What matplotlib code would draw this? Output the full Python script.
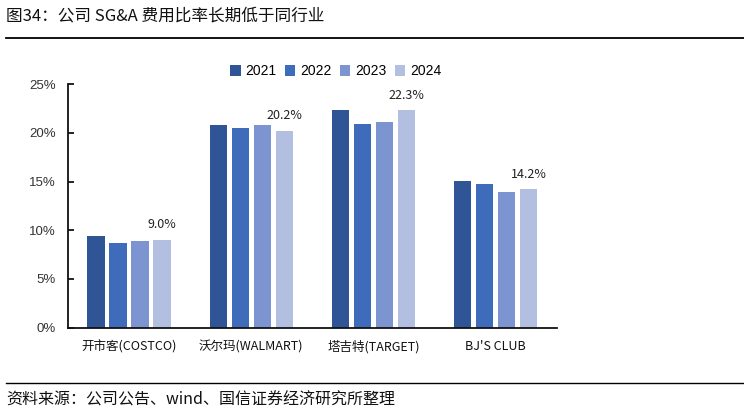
import matplotlib
matplotlib.use('Agg')
import matplotlib.pyplot as plt
import numpy as np
from matplotlib.lines import Line2D

plt.rcParams['font.family'] = ['Noto Sans CJK SC', 'DejaVu Sans']

# data
companies = ['开市客(COSTCO)', '沃尔玛(WALMART)', '塔吉特(TARGET)', "BJ'S CLUB"]
years = ['2021', '2022', '2023', '2024']
sga_2021 = [9.4, 20.8, 22.3, 15.1]
sga_2022 = [8.7, 20.5, 20.9, 14.7]
sga_2023 = [8.9, 20.8, 21.1, 13.9]
sga_2024 = [9.0, 20.2, 22.3, 14.2]
colors = ['#2F5597', '#3E6BBA', '#7C94CF', '#B3BFE0']

series = [sga_2021, sga_2022, sga_2023, sga_2024]

fig = plt.figure(figsize=(7.44, 4.16), dpi=100)
ax = fig.add_axes([0.0914, 0.2127, 0.657, 0.585])

x = np.arange(len(companies))
step = 0.18
width = 0.143
for i, (vals, yr, c) in enumerate(zip(series, years, colors)):
    ax.bar(x + (i - 1.5) * step, vals, width=width, color=c, label=yr)

# labels over the 2024 bars
for xi, v in zip(x, sga_2024):
    ax.text(xi + 1.5 * step, v + 0.9, f'{v:.1f}%', ha='center', va='bottom',
            fontsize=9, color='#222222')

ax.set_xlim(-0.5, 3.5)
ax.set_ylim(0, 25)
ax.set_yticks(np.arange(0, 26, 5))
ax.set_yticklabels([f'{t}%' for t in range(0, 26, 5)], family='Liberation Sans',
                   fontsize=9.5, color='#333333')
ax.tick_params(axis='y', direction='in', length=4, width=1.2, pad=9)
ax.set_xticks(x)
ax.set_xticklabels(companies, fontsize=9, color='#111111')
ax.tick_params(axis='x', length=0, pad=9)
for s in ['top', 'right']:
    ax.spines[s].set_visible(False)
for s in ['left', 'bottom']:
    ax.spines[s].set_linewidth(1.3)
    ax.spines[s].set_color('#111111')

leg = ax.legend(loc='center', bbox_to_anchor=(0.548, 1.053), ncol=4, frameon=False,
                handlelength=0.75, handleheight=0.75, handletextpad=0.35,
                columnspacing=0.6, prop={'family': 'Liberation Sans', 'size': 10})

# title, rules and source
fig.text(0.008, 0.962, '图34：公司 SG&A 费用比率长期低于同行业', fontsize=12,
         ha='left', va='center', color='#111111')
fig.add_artist(Line2D([0.008, 1.0], [0.908, 0.908], color='black', lw=1.3))
fig.add_artist(Line2D([0.008, 1.0], [0.079, 0.079], color='black', lw=1.0))
fig.text(0.008, 0.038, '资料来源：公司公告、wind、国信证券经济研究所整理', fontsize=11.5,
         ha='left', va='center', color='#111111')

fig.savefig('out.png', dpi=100)
